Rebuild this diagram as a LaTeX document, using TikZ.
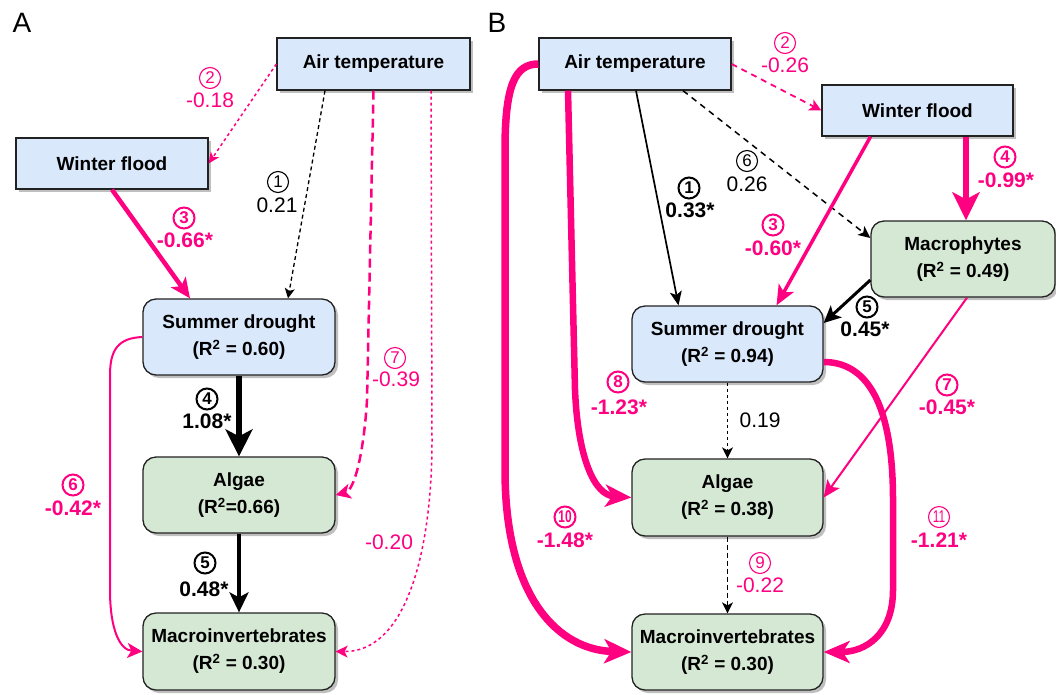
\documentclass[tikz,border=0pt]{standalone}
\usepackage{fontspec}
\setmainfont{Liberation Sans}
\usepackage{graphicx}
\usetikzlibrary{arrows.meta,calc,shadows}
\definecolor{pk}{HTML}{FF0080}
\definecolor{bfill}{HTML}{DAE8FC}
\definecolor{gfill}{HTML}{D5E8D4}
\definecolor{bdr}{HTML}{222222}
\begin{document}
\begin{tikzpicture}[x=1pt,y=-1pt,
  box/.style={draw=bdr, line width=1.3pt, inner sep=0pt, align=center,
    font=\bfseries\fontsize{19}{27}\selectfont,
    drop shadow={shadow xshift=3pt, shadow yshift=-3pt, fill=black, opacity=0.25}},
  sqbox/.style={box, rectangle},
  rbox/.style={box, rectangle, rounded corners=13pt},
  arrowtip/.style n args={3}{-{Stealth[length=#1,width=#2,inset=#3]}},
  lab/.style={inner sep=0pt, font=\fontsize{21}{21}\selectfont},
  labb/.style={inner sep=0pt, font=\bfseries\fontsize{21}{21}\selectfont},
  cn/.style={circle, draw, line width=1.1pt, inner sep=0pt, minimum size=21pt, font=\fontsize{17}{17}\selectfont},
  cnb/.style={circle, draw, line width=2pt, inner sep=0pt, minimum size=21pt, font=\bfseries\fontsize{17}{17}\selectfont},
  panel/.style={inner sep=0pt, font=\fontsize{28}{28}\selectfont}
]
\useasboundingbox (0,0) rectangle (1056,694);

% panel letters
\node[panel] (pA) at (22,22.5) {A};
\node[panel] (pB) at (497,22.5) {B};

% ---------------- Panel A boxes
\node[sqbox,fill=bfill,minimum width=193pt,minimum height=52pt] (atA) at (373.5,64) {Air temperature};
\node[sqbox,fill=bfill,minimum width=192pt,minimum height=51pt] (wfA) at (112,163.5) {Winter flood};
\node[rbox,fill=bfill,minimum width=192pt,minimum height=76pt] (sdA) at (239,337) {Summer drought\\(R\textsuperscript{2} = 0.60)};
\node[rbox,fill=gfill,minimum width=192pt,minimum height=76pt] (algA) at (239,495) {Algae\\(R\textsuperscript{2}=0.66)};
\node[rbox,fill=gfill,minimum width=192pt,minimum height=77pt] (macA) at (239,651.5) {Macroinvertebrates\\(R\textsuperscript{2} = 0.30)};

% ---------------- Panel B boxes
\node[sqbox,fill=bfill,minimum width=192pt,minimum height=52pt] (atB) at (635,64) {Air temperature};
\node[sqbox,fill=bfill,minimum width=191pt,minimum height=51pt] (wfB) at (917.5,110.5) {Winter flood};
\node[rbox,fill=gfill,minimum width=184pt,minimum height=76pt] (mpB) at (963,259) {Macrophytes\\(R\textsuperscript{2} = 0.49)};
\node[rbox,fill=bfill,minimum width=191pt,minimum height=76pt] (sdB) at (727.5,344) {Summer drought\\(R\textsuperscript{2} = 0.94)};
\node[rbox,fill=gfill,minimum width=191pt,minimum height=77pt] (algB) at (727.5,497.5) {Algae\\(R\textsuperscript{2} = 0.38)};
\node[rbox,fill=gfill,minimum width=191pt,minimum height=76pt] (macB) at (727.5,652) {Macroinvertebrates\\(R\textsuperscript{2} = 0.30)};

% ---------------- Panel A connectors
\draw[pk, line width=1.5pt, dash pattern=on 3pt off 3pt, arrowtip={11pt}{10pt}{3pt}] (atA.west) -- (wfA.east);
\draw[black, line width=1.3pt, dash pattern=on 4pt off 3pt, arrowtip={10pt}{10pt}{2.5pt}] ($(atA.south)+(-48.5,0)$) -- ($(sdA.north)+(49,0)$);
\draw[pk, line width=4.5pt, arrowtip={20pt}{18pt}{5pt}] (wfA.south) -- ($(sdA.north)+(-49,0)$);
\draw[pk, line width=2.5pt, dash pattern=on 9pt off 5pt, arrowtip={15pt}{15pt}{4pt}] (atA.south) -- (367,400) .. controls (364,450) and (355,490) .. (algA.east);
\draw[pk, line width=1.5pt, dash pattern=on 3pt off 3pt, arrowtip={12pt}{12pt}{3pt}] ($(atA.south)+(57.5,0)$) -- (432,440) .. controls (432,555) and (405,652) .. (macA.east);
\draw[black, line width=6pt, arrowtip={27pt}{27pt}{7pt}] (sdA.south) -- (algA.north);
\draw[black, line width=4pt, arrowtip={20pt}{19pt}{5pt}] (algA.south) -- (macA.north);
\draw[pk, line width=2pt, arrowtip={15pt}{15pt}{4pt}] (sdA.west) .. controls (118,338) and (110,350) .. (110,375) -- (110,590) .. controls (110,630) and (120,650) .. (macA.west);

% ---------------- Panel B connectors
\draw[pk, line width=7.5pt, arrowtip={27pt}{24pt}{7pt}] (atB.west) .. controls (515,64) and (505,85) .. (505,150) -- (505,470) .. controls (505,600) and (560,650) .. (macB.west);
\draw[pk, line width=6.5pt, arrowtip={26pt}{22pt}{7pt}] ($(atB.south)+(-67,0)$) -- (575,390) .. controls (578,460) and (595,495) .. (algB.west);
\draw[black, line width=1.7pt, arrowtip={14pt}{12pt}{3.5pt}] ($(atB.south)+(1,0)$) -- ($(sdB.north)+(-49,0)$);
\draw[black, line width=1.5pt, dash pattern=on 6pt off 5pt, arrowtip={12pt}{11pt}{3pt}] ($(atB.south)+(48,0)$) -- ($(mpB.west)+(0,-21)$);
\draw[pk, line width=1.8pt, dash pattern=on 6pt off 5pt, arrowtip={12pt}{12pt}{3pt}] (atB.east) -- (wfB.west);
\draw[pk, line width=3.5pt, arrowtip={20pt}{17pt}{5pt}] ($(wfB.south)+(-47,0)$) -- ($(sdB.north)+(49,0)$);
\draw[pk, line width=6pt, arrowtip={28pt}{27pt}{7pt}] ($(wfB.south)+(48.5,0)$) -- ($(mpB.north)+(3,0)$);
\draw[black, line width=3pt, arrowtip={17pt}{16pt}{4pt}] ($(mpB.west)+(0,21)$) -- ($(sdB.east)+(0,-21)$);
\draw[pk, line width=2pt, arrowtip={17pt}{15pt}{4pt}] ($(mpB.south)+(4,0)$) -- (algB.east);
\draw[pk, line width=6.5pt, arrowtip={26pt}{22pt}{7pt}] ($(sdB.east)+(0,18)$) .. controls (865,362) and (893,400) .. (893,500) -- (893,590) .. controls (893,635) and (865,652) .. (macB.east);
\draw[black, line width=1.3pt, dash pattern=on 3pt off 3pt, arrowtip={11pt}{11pt}{3pt}] (sdB.south) -- (algB.north);
\draw[black, line width=1.3pt, dash pattern=on 5pt off 3pt, arrowtip={11pt}{11pt}{3pt}] (algB.south) -- (macB.north);

% ---------------- Panel A labels
\node[cn, pk] (cA2) at (210,78) {2};
\node[lab, pk] (vA2) at (210,100) {-0.18};
\node[cn, black] (cA1) at (278,182) {1};
\node[lab, black] (vA1) at (277,205) {0.21};
\node[cnb, pk] (cA3) at (184,218) {3};
\node[labb, pk] (vA3) at (185,240) {-0.66*};
\node[cn, pk] (cA7) at (395,358) {7};
\node[lab, pk] (vA7) at (396,379) {-0.39};
\node[cnb, black] (cA4) at (207,399) {4};
\node[labb, black] (vA4) at (207,421) {1.08*};
\node[cnb, pk] (cA6) at (73,485) {6};
\node[labb, pk] (vA6) at (73,508) {-0.42*};
\node[cnb, black] (cA5) at (205,563) {5};
\node[labb, black] (vA5) at (204,589) {0.48*};
\node[lab, pk] (vA8) at (389,542) {-0.20};

% ---------------- Panel B labels
\node[cn, pk] (cB2) at (785,43) {2};
\node[lab, pk] (vB2) at (785,65) {-0.26};
\node[cn, black] (cB6) at (747,161) {6};
\node[lab, black] (vB6) at (747,184) {0.26};
\node[cnb, black] (cB1) at (689,188) {1};
\node[labb, black] (vB1) at (690,210) {0.33*};
\node[cnb, pk] (cB3) at (773,225) {3};
\node[labb, pk] (vB3) at (773,248) {-0.60*};
\node[cnb, pk] (cB4) at (1005,157) {4};
\node[labb, pk] (vB4) at (1006,180) {-0.99*};
\node[cnb, black] (cB5) at (867,307) {5};
\node[labb, black] (vB5) at (865,329) {0.45*};
\node[cnb, pk] (cB8) at (618,382) {8};
\node[labb, pk] (vB8) at (619,407) {-1.23*};
\node[lab, black] (vB0) at (760,420) {0.19};
\node[cnb, pk] (cB7) at (947,385) {7};
\node[labb, pk] (vB7) at (947,407) {-0.45*};
\node[cnb, pk] (cB10) at (565,517) {\scalebox{0.7}[1]{10}};
\node[labb, pk] (vB10) at (565,540) {-1.48*};
\node[cn, pk] (cB11) at (939,517) {\scalebox{0.7}[1]{11}};
\node[labb, pk] (vB11) at (939,540) {-1.21*};
\node[cn, pk] (cB9) at (760,563) {9};
\node[lab, pk] (vB9) at (760,585) {-0.22};
\end{tikzpicture}
\end{document}
